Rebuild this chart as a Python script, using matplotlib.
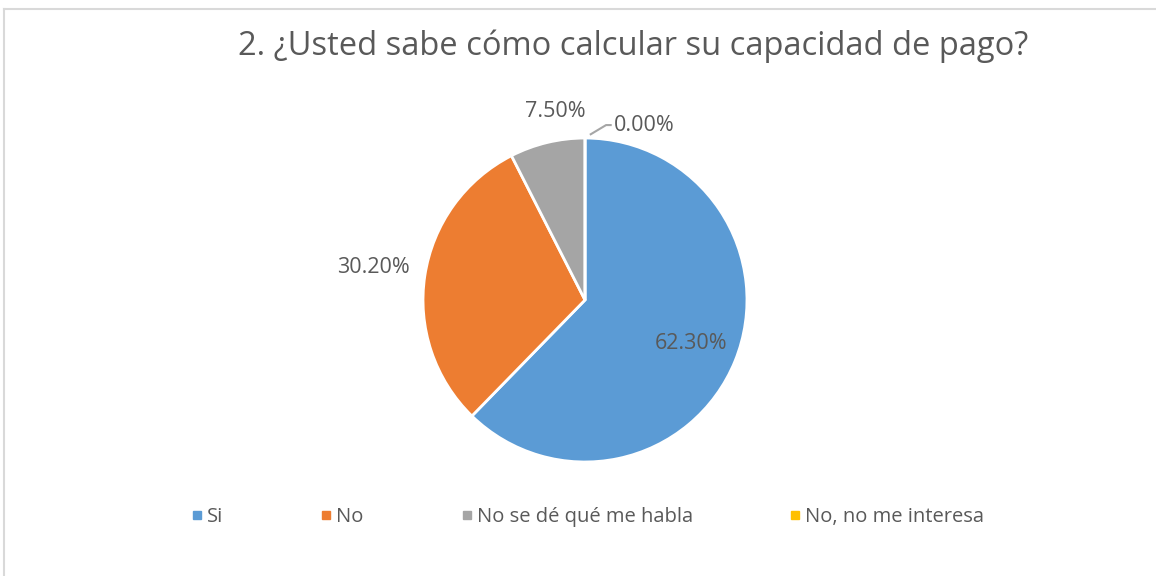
import numpy as np
import matplotlib
matplotlib.use("Agg")
import matplotlib.pyplot as plt
from matplotlib.lines import Line2D

# data
categories = ["Si", "No", "No se dé qué me habla", "No, no me interesa"]
values = [62.3, 30.2, 7.5, 0.0]
labels = ["62.30%", "30.20%", "7.50%", "0.00%"]
colors = ["#5B9BD5", "#ED7D31", "#A5A5A5", "#FFC000"]
title = "2. ¿Usted sabe cómo calcular su capacidad de pago?"

txt = "#595959"
plt.rcParams["font.family"] = ["Open Sans", "DejaVu Sans"]

fig = plt.figure(figsize=(11.56, 5.76), dpi=100)
ax = fig.add_axes([0.3309, 0.1276, 0.3503, 0.7031])

wedges, _ = ax.pie(values, colors=colors, startangle=90, counterclock=False,
                   wedgeprops=dict(edgecolor="white", linewidth=2))
ax.set_xlim(-1.25, 1.25)
ax.set_ylim(-1.25, 1.25)
ax.set_aspect("equal")
ax.axis("off")

# label distance from centre per wedge (None = zero slice with leader line)
dist = [0.71, 1.32, 1.18, None]
for w, lab, d in zip(wedges, labels, dist):
    mid = np.deg2rad((w.theta1 + w.theta2) / 2)
    if d is None:
        ax.plot([0.03, 0.13, 0.165], [1.02, 1.08, 1.08], color="#A6A6A6", lw=1.5,
                solid_capstyle="butt")
        ax.text(0.18, 1.08, lab, ha="left", va="center", fontsize=15.5, color=txt)
        continue
    if lab == "7.50%":
        mid = np.deg2rad(99)
    ax.text(d * np.cos(mid), d * np.sin(mid), lab, ha="center", va="center",
            fontsize=15.5, color=txt)

fig.text(0.548, 0.92, title, ha="center", va="center", fontsize=23.5, color=txt)

handles = [Line2D([], [], marker="s", ls="none", color=c, markersize=6) for c in colors]
fig.legend(handles, categories, loc="center", bbox_to_anchor=(0.509, 0.103), ncol=4,
           frameon=False, fontsize=14.5, labelcolor=txt, handlelength=0.5,
           handletextpad=0.25, columnspacing=4.85)

# light frame lines at top and left
fig.add_artist(Line2D([0.0035, 0.0035], [0, 0.984], color="#D9D9D9", lw=1.5,
                      transform=fig.transFigure))
fig.add_artist(Line2D([0.0035, 1], [0.984, 0.984], color="#D9D9D9", lw=1.5,
                      transform=fig.transFigure))

fig.savefig("out.png", dpi=100, facecolor="white")
